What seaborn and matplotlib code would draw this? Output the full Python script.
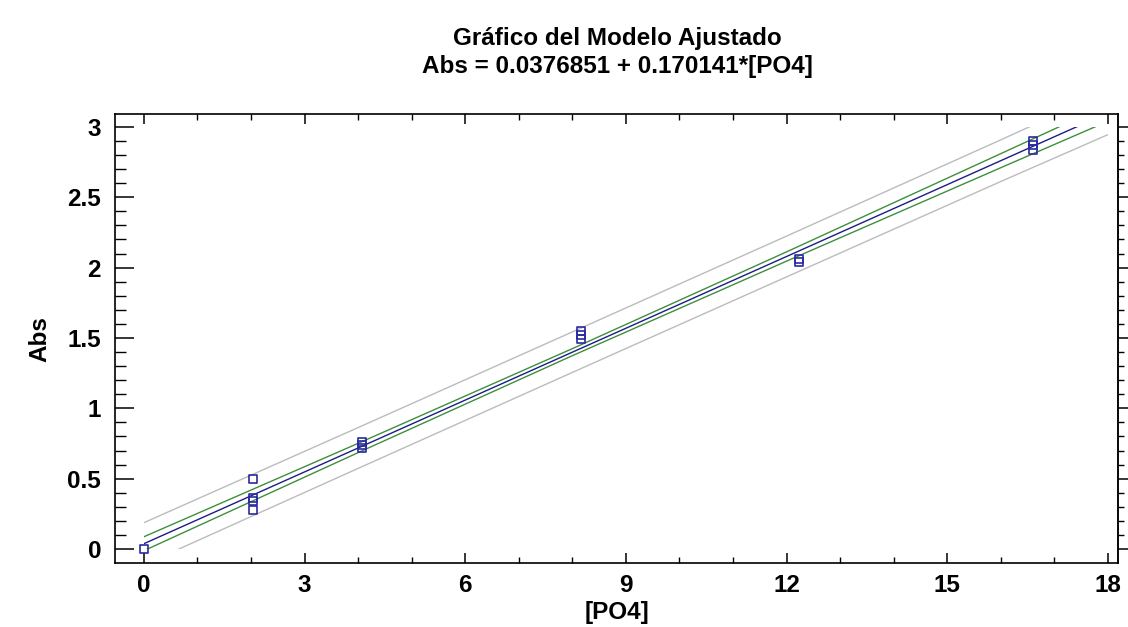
import numpy as np
import pandas as pd
import matplotlib
matplotlib.use("Agg")
import matplotlib.pyplot as plt
from matplotlib.patches import Rectangle
from matplotlib.ticker import MultipleLocator
import seaborn as sns

# ---- data ----
po4 = [0.0, 2.04, 2.04, 2.04, 2.04, 4.08, 4.08, 4.08, 8.16, 8.16, 8.16,
       12.24, 12.24, 16.6, 16.6, 16.6]
absorb = [0.0, 0.50, 0.36, 0.34, 0.28, 0.76, 0.74, 0.72, 1.55, 1.52, 1.49,
          2.06, 2.04, 2.90, 2.87, 2.84]

band_x = [0, 4, 8, 12, 16, 18]
fit_y = [0.0377, 0.718, 1.399, 2.079, 2.760, 3.100]
ci_upper = [0.087, 0.751, 1.424, 2.112, 2.810, 3.160]
ci_lower = [-0.012, 0.685, 1.374, 2.046, 2.710, 3.040]
pi_upper = [0.187, 0.863, 1.543, 2.224, 2.908, 3.255]
pi_lower = [-0.112, 0.573, 1.255, 1.934, 2.612, 2.945]

title1 = "Gráfico del Modelo Ajustado"
title2 = "Abs = 0.0376851 + 0.170141*[PO4]"
xlabel = "[PO4]"
ylabel = "Abs"
xticks = [0, 3, 6, 9, 12, 15, 18]
yticks = [0, 0.5, 1, 1.5, 2, 2.5, 3]

# ---- styling ----
sns.set_style("white")
plt.rcParams['font.family'] = ['Liberation Sans', 'DejaVu Sans']
plt.rcParams['font.weight'] = 'bold'
plt.rcParams['text.color'] = 'black'
plt.rcParams['xtick.color'] = 'black'
plt.rcParams['ytick.color'] = 'black'

fig = plt.figure(figsize=(11.28, 6.27), dpi=100)
ax = fig.add_axes([115/1128, 1-563/627, (1118-115)/1128, (563-114)/627])

FS = 17.5
GRAY = "#bcbcbc"
GREEN = "#3d8f3d"
BLUE = "#1c1c88"
MARK = "#2a2aa0"

lines_df = pd.DataFrame({
    "x": band_x * 5,
    "y": pi_upper + pi_lower + ci_upper + ci_lower + fit_y,
    "band": (["pi_u"] * 6 + ["pi_l"] * 6 + ["ci_u"] * 6 + ["ci_l"] * 6 + ["fit"] * 6),
})
palette = {"pi_u": GRAY, "pi_l": GRAY, "ci_u": GREEN, "ci_l": GREEN, "fit": BLUE}
sns.lineplot(data=lines_df, x="x", y="y", hue="band", palette=palette,
             estimator=None, sort=False, legend=False, linewidth=1.0, ax=ax)

clip = Rectangle((0, 0), 18, 3, transform=ax.transData, facecolor="none", edgecolor="none")
for ln in ax.lines:
    ln.set_clip_path(clip)

pts = pd.DataFrame({"x": po4, "y": absorb})
sns.scatterplot(data=pts, x="x", y="y", marker="s", s=34, facecolor="none",
                edgecolor=MARK, linewidth=1.2, ax=ax, zorder=5)

ax.set_xlim(-0.54, 18.19)
ax.set_ylim(-0.0995, 3.092)
ax.set_xticks(xticks)
ax.set_xticklabels([str(t) for t in xticks])
ax.set_yticks(yticks)
ax.set_yticklabels([f"{t:g}" for t in yticks])
ax.xaxis.set_minor_locator(MultipleLocator(1))
ax.yaxis.set_minor_locator(MultipleLocator(0.1))

ax.tick_params(axis="x", which="major", direction="in", length=7, width=1.1,
               top=True, bottom=True, labelsize=FS, pad=8, colors="black")
ax.tick_params(axis="x", which="minor", direction="in", length=4, width=1.0,
               top=True, bottom=True)
ax.tick_params(axis="y", which="major", direction="in", length=14, width=1.1,
               left=True, right=False, labelsize=FS, pad=10, colors="black")
ax.tick_params(axis="y", which="minor", direction="in", length=8, width=1.0,
               left=True, right=False)
for lab in ax.get_xticklabels() + ax.get_yticklabels():
    lab.set_fontweight("bold")
    lab.set_color("black")

sec = ax.secondary_yaxis("right")
sec.set_yticks(yticks)
sec.yaxis.set_minor_locator(MultipleLocator(0.1))
sec.tick_params(axis="y", which="major", direction="out", length=7, width=1.1, labelright=False)
sec.tick_params(axis="y", which="minor", direction="out", length=4, width=1.0)

for sp in ax.spines.values():
    sp.set_color("black")
    sp.set_linewidth(1.2)
sec.spines["right"].set_linewidth(1.2)

ax.set_xlabel("")
ax.set_ylabel("")

fig.text(617/1128, 1-38/627, title1, ha="center", va="center", fontsize=FS, fontweight="bold", color="black")
fig.text(617/1128, 1-66/627, title2, ha="center", va="center", fontsize=FS, fontweight="bold", color="black")
fig.text(617/1128, 1-613/627, xlabel, ha="center", va="center", fontsize=FS, fontweight="bold", color="black")
fig.text(40/1128, 1-339/627, ylabel, ha="center", va="center", rotation=90,
         fontsize=FS, fontweight="bold", color="black")

fig.savefig("out.png", dpi=100)
